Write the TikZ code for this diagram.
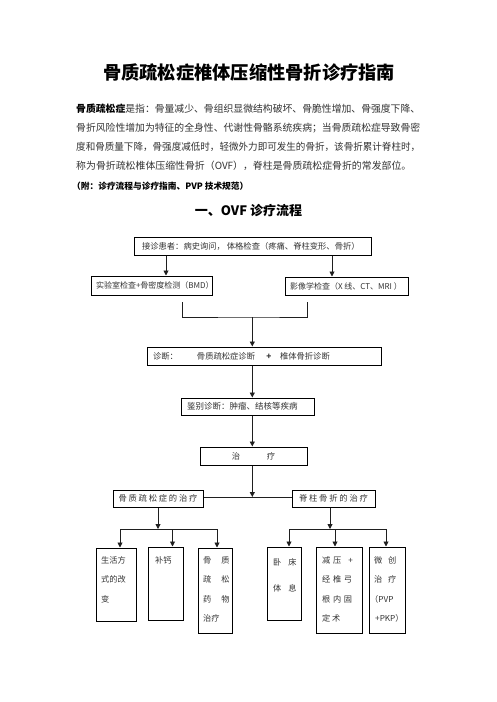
\documentclass[tikz,border=0pt]{standalone}
\usepackage{fontspec}
\usepackage{graphicx}
\setmainfont{Noto Sans CJK SC}
\usetikzlibrary{arrows.meta}
\definecolor{txtc}{gray}{0.2}
\definecolor{lnc}{gray}{0.12}
\newcommand\gp[1]{\hspace{#1pt}}
\newcommand\tline[4]{\node[tt] (#1) at (#2,#3) {#4};}
\begin{document}
\begin{tikzpicture}[x=1pt,y=-1pt,
  bx/.style={draw=black, line width=1pt, inner sep=0pt, text=txtc, font=\fontsize{8.3}{10}\selectfont},
  arr/.style={draw=lnc, line width=0.9pt, -{Triangle[width=5pt,length=5pt]}},
  ln/.style={draw=lnc, line width=0.9pt},
  txt/.style={inner sep=0pt, anchor=base west, text=txtc},
  tt/.style={txt, font=\fontsize{8.2}{10}\selectfont}]
\useasboundingbox[fill=white] (0,0) rectangle (496,702);

% header texts
\node[inner sep=0pt, anchor=base, font=\bfseries\fontsize{18.25}{20}\selectfont] (title) at (249,79) {骨质疏松症椎体压缩性骨折诊疗指南};
\node[txt, font=\fontsize{9.9}{12}\selectfont] (p1) at (76,112) {\resizebox{344pt}{\height}{{\color{black}\bfseries 骨质疏松症}是指：骨量减少、骨组织显微结构破坏、骨脆性增加、骨强度下降、}};
\node[txt, font=\fontsize{9.9}{12}\selectfont] (p2) at (76,131.3) {\resizebox{344pt}{\height}{骨折风险性增加为特征的全身性、代谢性骨骼系统疾病；当骨质疏松症导致骨密}};
\node[txt, font=\fontsize{9.9}{12}\selectfont] (p3) at (76,150.6) {\resizebox{344pt}{\height}{度和骨质量下降，骨强度减低时，轻微外力即可发生的骨折，该骨折累计脊柱时，}};
\node[txt, font=\fontsize{9.9}{12}\selectfont] (p4) at (76,169.9) {称为骨折疏松椎体压缩性骨折（OVF），脊柱是骨质疏松症骨折的常发部位。};
\node[txt, text=black, font=\bfseries\fontsize{8.7}{10}\selectfont] (note) at (72,189) {（附：诊疗流程与诊疗指南、PVP 技术规范）};
\node[inner sep=0pt, anchor=base, font=\bfseries\fontsize{13}{15}\selectfont] (sub) at (248.5,215) {一、OVF 诊疗流程};

% boxes
\node[bx, minimum width=237pt, minimum height=18pt] (top) at (252.5,246) {\makebox[221pt][l]{接诊患者：病史询问，\ 体格检查（疼痛、脊柱变形、骨折）}};
\node[bx, minimum width=121pt, minimum height=19pt, font=\fontsize{8}{10}\selectfont] (lab) at (151.5,285.5) {\makebox[111pt][l]{实验室检查+骨密度检测（BMD）}};
\node[bx, minimum width=123pt, minimum height=18pt, font=\fontsize{8}{10}\selectfont] (img) at (346.5,286) {\makebox[113pt][l]{影像学检查（X 线、CT、MRI ）}};
\node[bx, minimum width=234pt, minimum height=18pt] (diag) at (264,356) {\makebox[222pt][l]{\makebox[44pt][l]{诊断：}\makebox[66pt][l]{骨质疏松症诊断}\makebox[12pt]{\textbf{+}}\hspace{5pt}椎体骨折诊断}};
\node[bx, minimum width=133pt, minimum height=17pt, font=\fontsize{8.5}{10}\selectfont] (jb) at (247.5,406.5) {\makebox[121pt][l]{鉴别诊断：肿瘤、结核等疾病}};
\node[bx, minimum width=107pt, minimum height=18pt] (zl) at (253.5,456) {治\hspace{26.6pt}疗};
\node[bx, minimum width=90pt, minimum height=17pt] (Lt) at (158,498.5) {骨\gp{1.8}质\gp{1.8}疏\gp{1.8}松\gp{1.8}症\gp{1.8}的\gp{1.8}治\gp{1.8}疗};
\node[bx, minimum width=83pt, minimum height=17pt] (Rt) at (333.5,498.5) {脊\gp{1.8}柱\gp{1.8}骨\gp{1.8}折\gp{1.8}的\gp{1.8}治\gp{1.8}疗};

\node[bx, minimum width=40pt, minimum height=73pt] (A) at (116,584.5) {};
\node[bx, minimum width=35pt, minimum height=73pt] (B) at (165.5,583.5) {};
\node[bx, minimum width=34pt, minimum height=85pt] (C) at (215,590.5) {};
\node[bx, minimum width=33.5pt, minimum height=73pt] (D) at (284.25,583.5) {};
\node[bx, minimum width=46pt, minimum height=86pt] (E) at (339,590) {};
\node[bx, minimum width=36pt, minimum height=86pt] (F) at (387,590) {};

% texts of the tall boxes
\tline{a1t}{101}{563}{生活方}
\tline{a2t}{101}{582.5}{式的改}
\tline{a3t}{101}{602}{变}
\tline{b1t}{155}{563}{补钙}
\tline{c1t}{203}{563}{骨\gp{10}质}
\tline{c2t}{203}{582.5}{疏\gp{10}松}
\tline{c3t}{203}{602}{药\gp{10}物}
\tline{c4t}{203}{621.5}{治疗}
\tline{d1t}{273}{565}{卧\gp{7}床}
\tline{d2t}{273}{591}{体\gp{7}息}
\tline{e1t}{322}{563}{减\gp{2.7}压\gp{7}+}
\tline{e2t}{322}{582.5}{经\gp{2.7}椎\gp{2.7}弓}
\tline{e3t}{322}{602}{根\gp{2.7}内\gp{2.7}固}
\tline{e4t}{322}{621.5}{定\gp{1.6}术}
\tline{f1t}{374}{563}{微\gp{5.8}创}
\tline{f2t}{374}{582.5}{治\gp{5.8}疗}
\tline{f3t}{370}{602}{（PVP}
\tline{f4t}{375}{621.5}{+PKP）}

% connector coordinates
\coordinate (c1) at (166,0);
\coordinate (c2) at (332,0);
\coordinate (bl) at (182,302);
\coordinate (br) at (307,302);
\coordinate (bm) at (252.3,317);
\coordinate (jn) at (252.3,497);
\coordinate (lj) at (158,529);
\coordinate (la) at (120,529);
\coordinate (lb) at (172.5,529);
\coordinate (lc) at (217,529);
\coordinate (rj) at (330,529);
\coordinate (ra) at (289,529);
\coordinate (rb) at (335,529);
\coordinate (rc) at (386,529);

% connectors
\draw[arr] (top.south -| c1) -- (lab.north -| c1);
\draw[arr] (top.south -| c2) -- (img.north -| c2);
\draw[ln] (bl) |- (bm) -| (br);
\draw[arr] (bm) -- (diag.north -| bm);
\draw[arr] (diag.south -| bm) -- (jb.north -| bm);
\draw[arr] (jb.south -| bm) -- (zl.north -| bm);
\draw[arr] (zl.south -| bm) -- (jn);
\draw[ln] (Lt.east |- jn) -- (Rt.west |- jn);
\draw[arr] (Lt.south -| lj) -- (lj);
\draw[ln] (la) -- (lc);
\draw[arr] (la) -- (A.north -| la);
\draw[arr] (lb) -- (B.north -| lb);
\draw[arr] (lc) -- (C.north -| lc);
\draw[arr] (Rt.south -| rj) -- (rj);
\draw[ln] (ra) -- (rc);
\draw[arr] (ra) -- (D.north -| ra);
\draw[arr] (rb) -- (E.north -| rb);
\draw[arr] (rc) -- (F.north -| rc);
\end{tikzpicture}
\end{document}
